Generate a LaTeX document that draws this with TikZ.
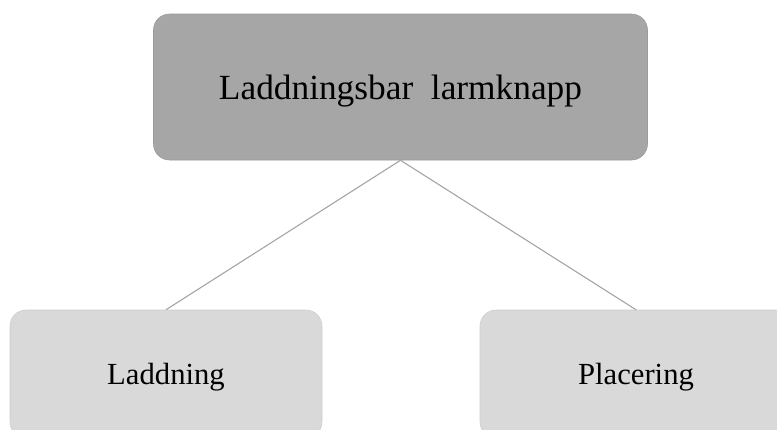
\documentclass[tikz,border=0pt]{standalone}
\usepackage{fontspec}
\setmainfont{Liberation Serif}
\usepackage{tikz}
\usetikzlibrary{calc}
\definecolor{topfill}{HTML}{A6A6A6}
\definecolor{topline}{HTML}{9A9A9A}
\definecolor{subfill}{HTML}{D9D9D9}
\definecolor{subline}{HTML}{CDCDCD}
\definecolor{linkgray}{HTML}{A3A3A3}
\tikzset{
	mainbox/.style = {draw = topline, fill = topfill, rounded corners = 12pt, minimum width = 370.5pt, minimum height = 109.5pt, font = \fontsize{26.5}{30}\selectfont, inner sep = 0pt, text depth = 0pt},
	subbox/.style = {draw = subline, fill = subfill, rounded corners = 12pt, minimum width = 234pt, minimum height = 96pt, font = \fontsize{23}{26}\selectfont, inner sep = 0pt, text depth = 0pt},
	link/.style = {draw = linkgray, line width = 0.8pt}
}
\begin{document}
\begin{tikzpicture}[x = 0.75pt, y = -0.75pt]
			\clip (0, 0) rectangle (777, 429);
			\fill[white] (0, 0) rectangle (777, 429);
			\node[mainbox] (knapp) at (400.5, 87) {Laddningsbar\ \ larmknapp};
			\node[subbox] (laddning) at (166, 374) {Laddning};
			\node[subbox] (placering) at (636, 374) {Placering};
			\draw[link] (knapp.south) -- (laddning.north);
			\draw[link] (knapp.south) -- (placering.north);
		\end{tikzpicture}
\end{document}
